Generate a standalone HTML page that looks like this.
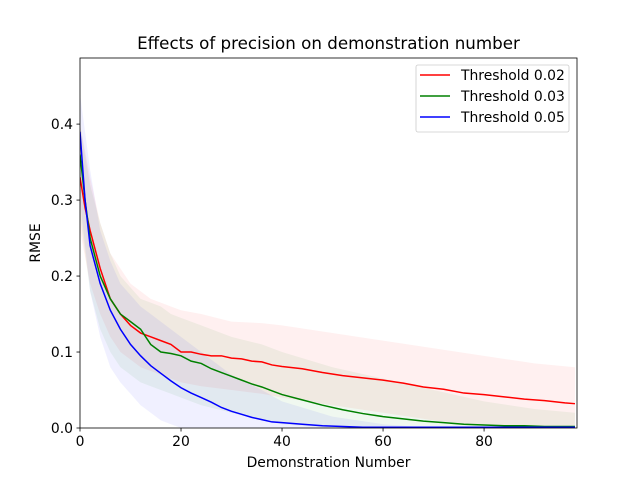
<!DOCTYPE html>
<html><head><meta charset="utf-8"><style>
body{margin:0;background:#fff}
svg{font-family:"DejaVu Sans","Liberation Sans",sans-serif}
</style></head><body>
<svg id="c" width="640" height="480" viewBox="0 0 640 480"></svg>
<script>
const meanX = [0,1,2,4,6,8,10,12,14,16,18,20,22,24,26,28,30,32,34,36,38,40,44,48,52,56,60,64,68,72,76,80,84,88,92,96,98];
const redMean = [0.33,0.29,0.26,0.21,0.17,0.15,0.135,0.125,0.12,0.115,0.11,0.10,0.10,0.097,0.095,0.095,0.092,0.091,0.088,0.087,0.083,0.081,0.078,0.073,0.069,0.066,0.063,0.059,0.054,0.051,0.046,0.044,0.041,0.038,0.036,0.033,0.032];
const greenMean = [0.36,0.30,0.25,0.20,0.17,0.15,0.14,0.13,0.11,0.10,0.098,0.095,0.088,0.085,0.078,0.073,0.068,0.063,0.058,0.054,0.049,0.044,0.037,0.030,0.024,0.019,0.015,0.012,0.009,0.007,0.005,0.004,0.003,0.003,0.002,0.002,0.002];
const blueMean = [0.39,0.30,0.24,0.19,0.155,0.13,0.11,0.095,0.082,0.072,0.062,0.053,0.046,0.040,0.034,0.027,0.022,0.018,0.014,0.011,0.008,0.007,0.005,0.003,0.002,0.001,0.001,0.001,0.001,0.001,0.001,0.001,0.001,0.001,0.001,0.001,0.001];
const bandX = [0,2,4,6,8,10,12,14,16,18,20,24,30,36,40,50,60,70,80,90,98];
const redUp = [0.40,0.33,0.27,0.23,0.21,0.19,0.18,0.17,0.165,0.16,0.155,0.15,0.14,0.138,0.135,0.125,0.115,0.105,0.095,0.085,0.08];
const redLo = [0.26,0.19,0.15,0.12,0.10,0.09,0.08,0.075,0.07,0.065,0.06,0.055,0.05,0.045,0.04,0.03,0.02,0.01,0.003,0,0];
const greenUp = [0.40,0.32,0.27,0.23,0.20,0.185,0.17,0.165,0.16,0.15,0.145,0.135,0.12,0.11,0.10,0.08,0.065,0.05,0.035,0.025,0.02];
const greenLo = [0.28,0.18,0.13,0.10,0.08,0.07,0.06,0.055,0.05,0.045,0.04,0.03,0.02,0.01,0.005,0,0,0,0,0,0];
const blueUp = [0.44,0.34,0.26,0.22,0.19,0.175,0.16,0.15,0.14,0.13,0.12,0.10,0.07,0.05,0.035,0.015,0.005,0,0,0,0];
const blueLo = [0.30,0.18,0.12,0.08,0.06,0.045,0.03,0.02,0.01,0.005,0,0,0,0,0,0,0,0,0,0,0];
const xTicks = [0,20,40,60,80];
const yTicks = [0.0,0.1,0.2,0.3,0.4];

const L=80,R=577,T=58,B=428,XMAX=98.4,YMAX=0.487;
const sx=v=>L+v/XMAX*(R-L), sy=v=>B-v/YMAX*(B-T);
const svg=document.getElementById('c');const NS='http://www.w3.org/2000/svg';
function mk(t,a,p){const e=document.createElementNS(NS,t);for(const k in a)e.setAttribute(k,a[k]);(p||svg).appendChild(e);return e;}
const defs=mk('defs',{});const cp=mk('clipPath',{id:'clip'},defs);mk('rect',{x:L,y:T,width:R-L,height:B-T},cp);
const plot=mk('g',{'clip-path':'url(#clip)'});


function band(up,lo,col,name){
  let d='M'+bandX.map((x,i)=>sx(x)+','+sy(up[i])).join('L');
  d+='L'+bandX.map((x,i)=>[x,i]).reverse().map(([x,i])=>sx(x)+','+sy(lo[i])).join('L')+'Z';
  const e=mk('path',{d:d,fill:col,'fill-opacity':0.06},plot);
  
  
}
band(redUp,redLo,'#ff0000','band-threshold-002');
band(greenUp,greenLo,'#008000','band-threshold-003');
band(blueUp,blueLo,'#0000ff','band-threshold-005');
function line(vals,col,name){
  const e=mk('polyline',{points:meanX.map((x,i)=>sx(x)+','+sy(vals[i])).join(' '),fill:'none',stroke:col,'stroke-width':1.5},plot);
  
  
}
line(redMean,'#ff0000','line-threshold-002');
line(greenMean,'#008000','line-threshold-003');
line(blueMean,'#0000ff','line-threshold-005');
mk('rect',{x:L,y:T,width:R-L,height:B-T,fill:'none',stroke:'#000','stroke-width':0.8});
xTicks.forEach(v=>{mk('line',{x1:sx(v),x2:sx(v),y1:B,y2:B+3.5,stroke:'#000','stroke-width':0.8});
  const t=mk('text',{x:sx(v),y:B+18,'font-size':13.9,'text-anchor':'middle'});t.textContent=v;
  });
yTicks.forEach(v=>{mk('line',{x1:L,x2:L-3.5,y1:sy(v),y2:sy(v),stroke:'#000','stroke-width':0.8});
  const t=mk('text',{x:L-7,y:sy(v)+5,'font-size':13.9,'text-anchor':'end'});t.textContent=v.toFixed(1);
  });
const tt=mk('text',{x:(L+R)/2,y:49,'font-size':16.7,'text-anchor':'middle'});tt.textContent='Effects of precision on demonstration number';

const xl=mk('text',{x:(L+R)/2,y:467,'font-size':13.9,'text-anchor':'middle'});xl.textContent='Demonstration Number';

const yl=mk('text',{x:40,y:243,'font-size':13.9,'text-anchor':'middle',transform:'rotate(-90 40 243)'});yl.textContent='RMSE';

const lg=mk('g',{});


mk('rect',{x:416,y:65,width:153,height:67,rx:2,fill:'#fff','fill-opacity':0.8,stroke:'#ccc','stroke-width':0.8},lg);
[['Threshold 0.02','#ff0000'],['Threshold 0.03','#008000'],['Threshold 0.05','#0000ff']].forEach((e,i)=>{
  const y=75+i*21;
  mk('line',{x1:420,x2:450,y1:y,y2:y,stroke:e[1],'stroke-width':1.5},lg);
  const t=mk('text',{x:461,y:y+5,'font-size':13.9},lg);t.textContent=e[0];
  
});
</script>
</body></html>
